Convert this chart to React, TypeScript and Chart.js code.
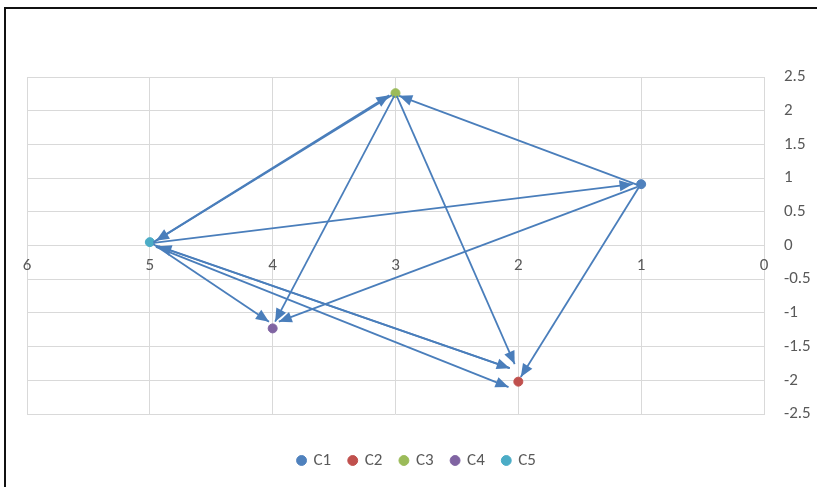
import React, { useEffect, useRef } from "react";
import { Chart, registerables } from "chart.js";

Chart.register(...registerables);

// ---- data ----
const seriesNames = ["C1", "C2", "C3", "C4", "C5"];
const seriesColors = ["#4F81BD", "#C0504D", "#9BBB59", "#8064A2", "#4BACC6"];
const pointX = [1, 2, 3, 4, 5];
const pointY = [0.91, -2.02, 2.26, -1.23, 0.05];

// arrows: from (x,y) -> to (x,y), head drawn at "to"
const arrowFromX = [4.97, 3.03, 1.03, 4.97, 3.01, 1.03, 4.97, 2.99, 1.02, 4.95, 4.95, 2.07];
const arrowFromY = [0.05, 2.23, 0.9, 0.04, 2.22, 0.87, 0.02, 2.22, 0.86, 0.0, -0.02, -1.82];
const arrowToX = [3.05, 4.95, 2.97, 1.07, 3.98, 3.95, 4.03, 2.03, 1.98, 2.07, 2.08, 4.93];
const arrowToY = [2.23, 0.07, 2.22, 0.91, -1.13, -1.13, -1.13, -1.76, -1.95, -1.82, -2.1, -0.01];

const xTickValues = [0, 1, 2, 3, 4, 5, 6];
const xTickLabels = ["0", "1", "2", "3", "4", "5", "6"];

const FONT = "Carlito, Calibri, Lato, 'Open Sans', sans-serif";
const FONT_SIZE = 17;
const TEXT_COLOR = "#595959";
const GRID_COLOR = "#D9D9D9";
const LINE_COLOR = "#4A7EBB";

const arrowPlugin = {
  id: "arrowHeadsAndXLabels",
  beforeDatasetsDraw(chart: any) {
    const { ctx, scales } = chart;
    const xs = scales.x;
    const ys = scales.y;
    ctx.save();
    ctx.fillStyle = TEXT_COLOR;
    ctx.font = `${FONT_SIZE}px ${FONT}`;
    ctx.textAlign = "center";
    ctx.textBaseline = "middle";
    const yPix = ys.getPixelForValue(0) + 20;
    xTickValues.forEach((v, i) => {
      ctx.fillText(xTickLabels[i], xs.getPixelForValue(v), yPix);
    });
    ctx.restore();
  },
  afterDatasetsDraw(chart: any) {
    const { ctx, scales } = chart;
    const xs = scales.x;
    const ys = scales.y;
    ctx.save();
    ctx.fillStyle = LINE_COLOR;
    const L = 13;
    const W = 5.5;
    for (let i = 0; i < arrowToX.length; i++) {
      const x1 = xs.getPixelForValue(arrowFromX[i]);
      const y1 = ys.getPixelForValue(arrowFromY[i]);
      const x2 = xs.getPixelForValue(arrowToX[i]);
      const y2 = ys.getPixelForValue(arrowToY[i]);
      const a = Math.atan2(y2 - y1, x2 - x1);
      const c = Math.cos(a);
      const s = Math.sin(a);
      ctx.beginPath();
      ctx.moveTo(x2, y2);
      ctx.lineTo(x2 - L * c + W * s, y2 - L * s - W * c);
      ctx.lineTo(x2 - L * c - W * s, y2 - L * s + W * c);
      ctx.closePath();
      ctx.fill();
    }
    ctx.restore();
  },
};

export default function App() {
  const canvasRef = useRef<HTMLCanvasElement | null>(null);

  useEffect(() => {
    if (!canvasRef.current) return;
    const arrowSets = arrowToX.map((_, i) => ({
      label: "arrow" + i,
      data: [
        { x: arrowFromX[i], y: arrowFromY[i] },
        { x: arrowToX[i], y: arrowToY[i] },
      ],
      showLine: true,
      borderColor: LINE_COLOR,
      backgroundColor: LINE_COLOR,
      borderWidth: 1.8,
      pointRadius: 0,
      pointHoverRadius: 0,
      fill: false,
      tension: 0,
    }));
    const pointSets = seriesNames.map((n, i) => ({
      label: n,
      data: [{ x: pointX[i], y: pointY[i] }],
      backgroundColor: seriesColors[i],
      borderColor: seriesColors[i],
      borderWidth: 1,
      pointRadius: 4.5,
      pointStyle: "circle",
      showLine: false,
    }));
    const nArrows = arrowSets.length;

    const chart = new Chart(canvasRef.current, {
      type: "scatter",
      data: { datasets: [...arrowSets, ...pointSets] as any },
      options: {
        responsive: false,
        animation: false,
        layout: { padding: { left: 0, top: 68, right: 0, bottom: 11 } },
        plugins: {
          tooltip: { enabled: false },
          legend: {
            position: "bottom",
            labels: {
              filter: (item: any) => item.datasetIndex >= nArrows,
              usePointStyle: true,
              pointStyle: "circle",
              boxWidth: 7,
              boxHeight: 7,
              padding: 18,
              color: TEXT_COLOR,
              font: { size: FONT_SIZE, family: FONT },
            },
          },
        },
        scales: {
          x: {
            type: "linear",
            reverse: true,
            min: 0,
            max: 6,
            ticks: { stepSize: 1, display: false },
            grid: { color: GRID_COLOR, drawTicks: false, lineWidth: 1 },
            border: { display: false },
            afterFit: (s: any) => {
              s.height = 20;
            },
          },
          y: {
            type: "linear",
            position: "right",
            min: -2.5,
            max: 2.5,
            ticks: {
              stepSize: 0.5,
              color: TEXT_COLOR,
              font: { size: FONT_SIZE, family: FONT },
              padding: 20,
              callback: (v: any) => String(Math.round(Number(v) * 10) / 10),
            },
            grid: { color: GRID_COLOR, drawTicks: false, lineWidth: 1 },
            border: { display: true, color: GRID_COLOR },
            afterFit: (s: any) => {
              s.width = 64;
            },
          },
          yLeft: {
            type: "linear",
            position: "left",
            display: true,
            ticks: { display: false },
            grid: { display: false, drawTicks: false },
            border: { display: false },
            afterFit: (s: any) => {
              s.width = 21;
            },
          },
        },
      } as any,
      plugins: [arrowPlugin],
    });
    return () => chart.destroy();
  }, []);

  return (
    <div
      style={{
        position: "fixed",
        left: 0,
        top: 0,
        right: 0,
        bottom: 0,
        overflow: "hidden",
        background: "#fff",
      }}
    >
      <div
        style={{
          position: "absolute",
          left: 4,
          top: 7,
          width: 900,
          height: 600,
          borderLeft: "2px solid #111",
          borderTop: "2px solid #111",
        }}
      />
      <canvas
        ref={canvasRef}
        width={822}
        height={481}
        style={{ position: "absolute", left: 6, top: 9, width: 822, height: 481 }}
      />
    </div>
  );
}
